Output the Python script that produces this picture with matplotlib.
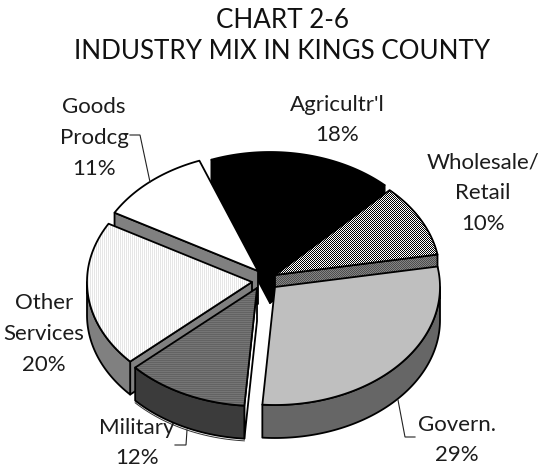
import numpy as np
import matplotlib
matplotlib.use("Agg")
import matplotlib.pyplot as plt
from matplotlib.patches import Polygon

W, H = 543, 470

# Industry shares, in percent, counter-clockwise from the Wholesale/Retail slice
names = ["Wholesale/\nRetail", "Agricultr'l", "Goods\nProdcg", "Other\nServices", "Military", "Govern."]
shares = [10, 18, 11, 20, 12, 29]
start_angle = 10.0

# Pie drawing set-up, in pixel units of the axes
radius_x, radius_y, depth = 165, 118, 33
apexes = [(275, 275), (270, 270), (258, 271), (252, 282), (257, 288), (275, 287)]
draw_order = [1, 0, 2, 3, 4, 5]
label_pos = [(483, 193), (337, 120), (94, 138), (44, 334), (137, 443), (457, 440)]

fig = plt.figure(figsize=(W / 100, H / 100), dpi=100, facecolor="white")
ax = fig.add_axes([0, 0, 1, 1])
ax.set_xlim(0, W)
ax.set_ylim(H, 0)
ax.axis("off")

yy, xx = np.mgrid[0:H, 0:W]
checker = ((xx + yy) % 2).astype(float)
stripes_v = 0.90 + 0.10 * (xx % 2)
stripes_h = 0.39 + 0.07 * (yy % 2)
dark_check = 0.30 + 0.22 * ((xx + yy) % 2)


def arc(apex, t0, t1, drop=0.0):
    t = np.radians(np.linspace(t0, t1, 90))
    return np.column_stack([apex[0] + radius_x * np.cos(t),
                            apex[1] - radius_y * np.sin(t) + drop])


def solid(points, fill, z, lw=1.3, edge="black"):
    ax.add_patch(Polygon(points, closed=True, fc=fill, ec=edge, lw=lw, zorder=z, joinstyle="round"))


def textured(points, texture, z, lw=1.3):
    ax.add_patch(Polygon(points, closed=True, fc="none", ec="black", lw=lw, zorder=z + 0.1, joinstyle="round"))
    img = ax.imshow(texture, cmap="gray", vmin=0, vmax=1, extent=(0, W, H, 0),
                    interpolation="nearest", zorder=z, aspect="auto")
    img.set_clip_path(Polygon(points, closed=True, transform=ax.transData))


styles = {
    0: dict(top=checker, outer=dark_check, cut=dark_check),
    1: dict(top=0.0, outer=0.0, cut=0.0),
    2: dict(top=1.0, outer=0.5, cut=0.5),
    3: dict(top=stripes_v, outer=0.5, cut=0.5),
    4: dict(top=stripes_h, outer=0.23, cut=1.0),
    5: dict(top=0.75, outer=0.40, cut=0.40),
}


def paint(points, tone, z):
    if np.isscalar(tone):
        solid(points, str(tone), z)
    else:
        textured(points, tone, z)


edges = start_angle + np.concatenate([[0], np.cumsum(shares) * 3.6])
for z, i in enumerate(draw_order):
    a0, a1 = edges[i], edges[i + 1]
    apex = np.array(apexes[i], float)
    style = styles[i]
    base = 2 + z * 2

    # Straight cut faces that turn toward the viewer
    for angle, visible in ((a0, np.cos(np.radians(a0)) > 0 and a0 < 90),
                           (a1, np.cos(np.radians(a1)) < 0)):
        if visible:
            pt = arc(apex, angle, angle)[0]
            face = np.array([apex, pt, pt + [0, depth], apex + [0, depth]])
            paint(face, style["cut"], base)

    # Curved outer wall, only where the rim faces the front
    s0, s1 = max(a0, 180), min(a1, 360)
    if s1 > s0:
        wall = np.vstack([arc(apex, s0, s1), arc(apex, s1, s0, depth)])
        paint(wall, style["outer"], base + 0.3)
        if i == 4:
            # Double rule under the Military wall
            low = arc(apex, s0, s1, depth + 2.2)
            ax.plot(low[:, 0], low[:, 1], color="#333333", lw=0.7, zorder=base + 0.4)

    # Top surface
    top = np.vstack([apex, arc(apex, a0, a1)])
    paint(top, style["top"], base + 0.6)

# Leader lines
leaders = [
    ([130, 140, 150], [135, 135, 182]),
    ([175, 186, 187], [445, 445, 430]),
    ([415, 405, 398], [437, 437, 400]),
]
for xs, ys in leaders:
    ax.plot(xs, ys, color="#222222", lw=0.8, zorder=40, solid_joinstyle="miter")

# Slice labels
font = dict(family="Lato", fontsize=16, color="#1c1c1c", ha="center", va="center",
            linespacing=1.68, zorder=50)
for name, share, (lx, ly) in zip(names, shares, label_pos):
    ax.text(lx, ly, f"{name}\n{share}%", **font)

# Chart title
title = dict(font)
title.update(fontsize=18.7, linespacing=1.29, color="#111111")
ax.text(282, 36, "CHART 2-6\nINDUSTRY MIX IN KINGS COUNTY", **title)

fig.savefig("out.png", dpi=100, facecolor="white")
